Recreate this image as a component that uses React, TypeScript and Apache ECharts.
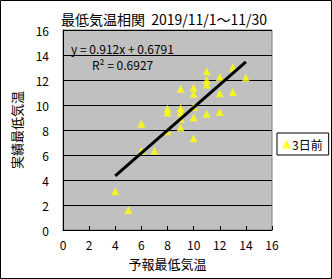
import React, { useEffect, useRef } from "react";
import * as echarts from "echarts";

const forecastX = [4, 5, 6, 6, 7, 8, 8, 8, 9, 9, 9, 9, 9, 10, 10, 10, 10, 10, 11, 11, 11, 11, 12, 12, 12, 13, 13, 14];
const actualY = [3.1, 1.6, 8.5, 6.35, 6.35, 9.7, 9.4, 7.9, 11.3, 9.75, 9.4, 8.9, 8.2, 11.4, 10.9, 9.85, 9.0, 7.35, 12.7, 12.0, 11.65, 9.3, 12.25, 10.95, 9.45, 13.0, 11.05, 12.2];
const slope = 0.912;
const intercept = 0.6791;
const r2 = 0.6927;
const seriesName = "3日前";
const titleText = "最低気温相関  2019/11/1～11/30";
const xAxisTitle = "予報最低気温";
const yAxisTitle = "実績最低気温";

const FONT = "'Noto Sans CJK JP', sans-serif";

export default function App() {
  const ref = useRef<HTMLDivElement>(null);
  useEffect(() => {
    if (!ref.current) return;
    const chart = echarts.init(ref.current, undefined, { renderer: "svg" });
    const pts = forecastX.map((x, i) => [x, actualY[i]]);
    const xMin = Math.min(...forecastX);
    const xMax = Math.max(...forecastX);
    const trend = [
      [xMin, slope * xMin + intercept],
      [xMax, slope * xMax + intercept],
    ];
    chart.setOption({
      animation: false,
      backgroundColor: "#ffffff",
      textStyle: { fontFamily: FONT },
      grid: { left: 63, top: 30, width: 209, height: 200, show: true, backgroundColor: "#c0c0c0", borderColor: "#808080", borderWidth: 1 },
      xAxis: {
        type: "value", min: 0, max: 16, interval: 2,
        axisLine: { show: true, onZero: false, lineStyle: { color: "#000", width: 1 } },
        axisTick: { show: true, inside: true, length: 4, lineStyle: { color: "#000" } },
        axisLabel: { color: "#000", fontSize: 12, margin: 8, fontFamily: FONT },
        splitLine: { show: false },
        name: xAxisTitle, nameLocation: "middle", nameGap: 27,
        nameTextStyle: { color: "#000", fontSize: 13, fontFamily: FONT },
      },
      yAxis: {
        type: "value", min: 0, max: 16, interval: 2,
        axisLine: { show: true, onZero: false, lineStyle: { color: "#000", width: 1 } },
        axisTick: { show: false },
        axisLabel: { color: "#000", fontSize: 12, margin: 14, fontFamily: FONT },
        splitLine: { show: true, lineStyle: { color: "#000", width: 1 } },
        name: yAxisTitle, nameLocation: "middle", nameGap: 40, nameRotate: 90,
        nameTextStyle: { color: "#000", fontSize: 13, fontFamily: FONT },
      },
      legend: {
        show: true, data: [{ name: seriesName, icon: "triangle" }],
        left: 277, top: 133, orient: "vertical",
        itemWidth: 9, itemHeight: 9, itemGap: 4,
        padding: [5, 6, 5, 5], borderColor: "#000", borderWidth: 1, backgroundColor: "#fff",
        textStyle: { color: "#000", fontSize: 12, fontFamily: FONT, padding: [0, 0, 0, -4] },
      },
      graphic: [
        { type: "rect", shape: { x: 0.5, y: 0.5, width: 331, height: 278 }, style: { fill: "none", stroke: "#000", lineWidth: 1 }, silent: true, z: 100 },
        { type: "text", x: 164, y: 12, style: { text: titleText, fill: "#000", font: `14px ${FONT}`, textAlign: "center" } },
        { type: "text", x: 71, y: 42, style: { text: `y = ${slope}x + ${intercept}`, fill: "#000", font: `12px ${FONT}` }, z: 50 },
        { type: "text", x: 92, y: 58, style: { text: `R² = ${r2}`, fill: "#000", font: `12px ${FONT}` }, z: 50 },
      ],
      series: [
        {
          name: seriesName, type: "scatter", data: pts, symbol: "triangle", symbolSize: 8,
          itemStyle: { color: "#ffff00" }, z: 3,
        },
        {
          name: "trend", type: "line", data: trend, symbol: "none", silent: true,
          lineStyle: { color: "#000", width: 3 }, z: 4,
        },
      ],
    });
    return () => chart.dispose();
  }, []);
  return <div ref={ref} style={{ position: "fixed", left: 0, top: 0, width: 332, height: 279 }} />;
}
